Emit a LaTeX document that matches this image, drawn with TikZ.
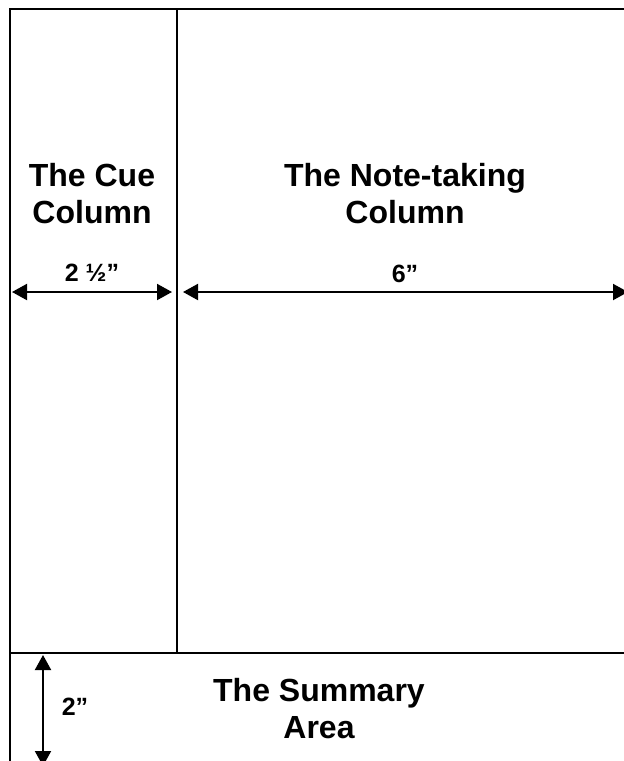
\documentclass[tikz,border=0pt]{standalone}
\usepackage{fontspec}
\setmainfont{Liberation Sans}
\usetikzlibrary{arrows.meta}
\begin{document}
\begin{tikzpicture}[x=.5pt,y=-.5pt,line join=miter]
  \tikzset{rule/.style={line width=1.4pt},
    dim/.style={line width=1pt,{Triangle[length=7.5pt,width=8pt]}-{Triangle[length=7.5pt,width=8pt]}},
    head/.style={font=\bfseries\fontsize{16}{18.5}\selectfont,align=center,inner sep=0pt},
    size/.style={font=\bfseries\fontsize{12.5}{15}\selectfont,inner sep=0pt,anchor=base}}
  \useasboundingbox (0,0) rectangle (624,761);
  \clip (0,0) rectangle (624,761);
  % page frame
  \draw[rule] (10,775)--(10,9)--(635,9);
  \draw[rule] (177,9)--(177,653);
  \draw[rule] (10,653)--(635,653);
  % headings
  \node[head] (cue) at (92,194) {The Cue\\Column};
  \node[head] (note) at (405,194) {The Note-taking\\Column};
  \node[head] (summary) at (319,709) {The Summary\\Area};
  % widths and height
  \coordinate (cueL) at (12,292); \coordinate (cueR) at (172,292);
  \coordinate (noteL) at (183,292); \coordinate (noteR) at (628,292);
  \coordinate (sumT) at (43,655); \coordinate (sumB) at (43,766);
  \draw[dim] (cueL)--(cueR);
  \draw[dim] (noteL)--(noteR);
  \draw[dim] (sumT)--(sumB);
  \node[size] (cuew) at (92,281) {2 ½”};
  \node[size] (notew) at (405,282) {6”};
  \node[size] (sumh) at (75,715) {2”};
\end{tikzpicture}
\end{document}
